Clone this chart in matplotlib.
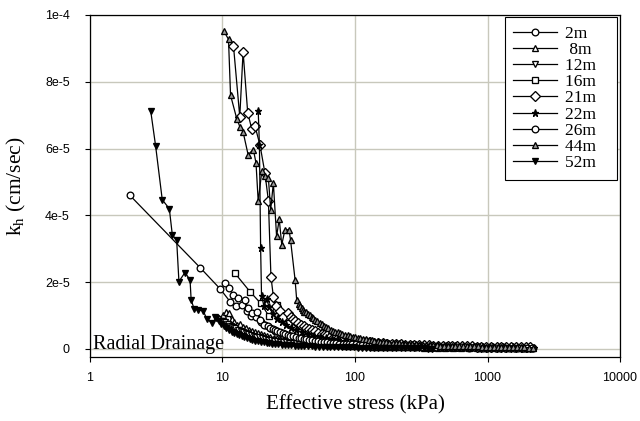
import matplotlib
matplotlib.use('Agg')
import matplotlib.pyplot as plt
import numpy as np

# effective stress (kPa) and kh (in units of 1e-5 cm/sec) for each depth
x_2m = [2.0, 6.8, 9.6, 11.4, 12.6, 14.0, 15.2, 16.5, 18, 19.5, 21, 23, 25, 27.5, 30, 33, 36.5, 40, 44, 49,
        54, 60, 67, 75, 84, 95, 108, 123, 140, 160, 184, 212, 245, 285, 330, 385, 450, 525, 615, 720,
        845, 990, 1160, 1360, 1600, 1880, 2200]
y_2m = [4.6, 2.43, 1.8, 1.42, 1.3, 1.32, 1.15, 1.0, 0.95, 0.82, 0.72, 0.62, 0.55, 0.48, 0.43, 0.38, 0.34, 0.3, 0.27, 0.24,
        0.21, 0.19, 0.17, 0.15, 0.14, 0.12, 0.11, 0.1, 0.095, 0.09, 0.085, 0.08, 0.075, 0.07, 0.065, 0.06, 0.055, 0.05, 0.045, 0.04,
        0.04, 0.035, 0.03, 0.03, 0.025, 0.02, 0.02]

x_8m = [10.1, 10.7, 11.1, 11.7, 12.3, 12.8, 13.5, 14.2, 15.0, 15.8, 16.7, 17.6, 18.6, 19.6, 20.7, 21.8, 23.0, 24.3, 25.6, 27.0,
        28.5, 30.0, 31.7, 33.4, 35.2, 37.2, 39.2, 41.4, 43.6, 46.0, 48.6, 51.2, 54, 57, 60, 63.4, 66.9, 70.5, 74.4, 78.5,
        82.8, 87.4, 92.2, 97.2, 103, 108, 114, 120, 127, 134, 141, 149, 157, 166, 175, 185, 195, 205, 217, 229,
        241, 255, 269, 283, 299, 330, 370, 420, 480, 550, 630, 720, 830, 950, 1090, 1250, 1430, 1640, 1880, 2150]
y_8m = [1.02, 1.1, 1.07, 0.89, 0.82, 0.72, 0.74, 0.66, 0.63, 0.57, 0.55, 0.5, 0.47, 0.44, 0.41, 0.39, 0.36, 0.34, 0.32, 0.3,
        0.28, 0.265, 0.25, 0.235, 0.22, 0.21, 0.2, 0.19, 0.18, 0.17, 0.16, 0.155, 0.148, 0.14, 0.134, 0.128, 0.122, 0.117, 0.112, 0.107,
        0.103, 0.099, 0.095, 0.091, 0.088, 0.085, 0.082, 0.079, 0.076, 0.073, 0.071, 0.069, 0.067, 0.065, 0.063, 0.061, 0.059, 0.057, 0.055, 0.053,
        0.051, 0.05, 0.048, 0.047, 0.045, 0.043, 0.041, 0.039, 0.037, 0.035, 0.033, 0.031, 0.029, 0.027, 0.025, 0.023, 0.021, 0.02, 0.018, 0.016]

x_12m = [8.8, 9.2, 9.6, 10.0, 10.5, 11.0, 11.5, 12.0, 12.5, 13.1, 13.7, 14.3, 15, 15.7, 16.5, 17.2, 18, 19, 20, 21,
         22, 23.2, 24.5, 25.7, 27, 28.5, 30, 32, 34, 36, 38, 40.5, 43, 46, 49, 52.5, 56, 60, 64, 68.5,
         73, 78.5, 84, 90, 97, 104, 112, 121, 130, 140, 152, 164, 178, 193, 210, 230, 250, 275, 300, 330,
         360, 395, 430, 475, 520, 575, 630, 690, 760, 840, 920, 1010, 1100, 1220, 1350, 1500, 1650, 1820, 2000]
y_12m = [0.95, 0.9, 0.85, 0.83, 0.8, 0.74, 0.7, 0.66, 0.62, 0.58, 0.55, 0.51, 0.48, 0.45, 0.42, 0.4, 0.37, 0.35, 0.32, 0.3,
         0.28, 0.265, 0.25, 0.235, 0.22, 0.21, 0.2, 0.19, 0.18, 0.17, 0.16, 0.15, 0.14, 0.135, 0.13, 0.125, 0.12, 0.115, 0.11, 0.105,
         0.1, 0.095, 0.09, 0.088, 0.085, 0.082, 0.08, 0.077, 0.075, 0.072, 0.07, 0.067, 0.065, 0.062, 0.06, 0.057, 0.055, 0.052, 0.05, 0.047,
         0.045, 0.042, 0.04, 0.038, 0.035, 0.033, 0.03, 0.03, 0.03, 0.027, 0.025, 0.022, 0.02, 0.02, 0.02, 0.017, 0.015, 0.012, 0.01]

x_16m = [12.4, 16.1, 19.4, 22.4, 25.6, 27.5, 29.5, 32, 35, 38, 42, 46, 51, 57, 63, 70, 78, 88, 100, 115,
         132, 152, 176, 205, 240, 280, 330, 390, 460, 540, 640, 760, 900, 1070, 1270, 1500, 1780, 2100]
y_16m = [2.27, 1.72, 1.37, 0.99, 1.32, 1.0, 0.88, 0.78, 0.7, 0.62, 0.55, 0.48, 0.43, 0.38, 0.34, 0.3, 0.27, 0.24, 0.21, 0.19,
         0.17, 0.15, 0.135, 0.12, 0.11, 0.1, 0.09, 0.085, 0.08, 0.075, 0.07, 0.065, 0.06, 0.055, 0.05, 0.048, 0.045, 0.04]

x_21m = [12.1, 13.5, 14.3, 15.5, 16.6, 17.6, 19.2, 20.9, 22.2, 23.2, 24.2, 25.5, 27, 28.7, 31.3, 32.6, 34, 35.5, 37, 39,
         41, 43, 45, 47.5, 50, 53, 56, 59, 62, 66, 70, 74, 78, 83, 88, 94, 100, 107, 115, 122,
         130, 140, 150, 162, 175, 190, 205, 222, 240, 260, 280, 305, 330, 360, 390, 425, 460, 500, 540, 590,
         640, 700, 760, 830, 900, 980, 1070, 1170, 1270, 1390, 1500, 1640, 1780, 1940, 2100]
y_21m = [9.08, 6.95, 8.9, 7.07, 6.6, 6.67, 6.1, 5.27, 4.44, 2.17, 1.57, 1.3, 1.15, 0.97, 1.07, 0.97, 0.9, 0.84, 0.78, 0.73,
         0.68, 0.64, 0.6, 0.56, 0.53, 0.49, 0.46, 0.435, 0.41, 0.385, 0.36, 0.34, 0.32, 0.3, 0.28, 0.265, 0.25, 0.235, 0.22, 0.21,
         0.2, 0.19, 0.18, 0.17, 0.16, 0.15, 0.14, 0.135, 0.13, 0.125, 0.12, 0.115, 0.11, 0.105, 0.1, 0.095, 0.09, 0.087, 0.085, 0.082,
         0.08, 0.077, 0.075, 0.072, 0.07, 0.067, 0.065, 0.062, 0.06, 0.057, 0.055, 0.052, 0.05, 0.047, 0.045]

x_22m = [18.6, 19.0, 19.4, 19.7, 20.5, 21.5, 22.5, 24, 26, 28, 30, 33, 36, 40, 44, 49, 54, 60, 67, 75,
         84, 94, 106, 120, 136, 155, 177, 203, 233, 268, 310, 360, 420, 490, 570, 670, 790, 930, 1100, 1300,
         1550, 1850, 2250]
y_22m = [7.14, 6.1, 3.02, 1.6, 1.3, 1.5, 1.25, 1.05, 0.9, 0.8, 0.72, 0.63, 0.56, 0.5, 0.45, 0.4, 0.36, 0.32, 0.29, 0.26,
         0.23, 0.21, 0.19, 0.17, 0.155, 0.14, 0.13, 0.12, 0.11, 0.1, 0.095, 0.09, 0.085, 0.08, 0.075, 0.07, 0.065, 0.06, 0.055, 0.05,
         0.045, 0.04, 0.035]

x_26m = [10.4, 11.1, 12.1, 13.2, 14.8, 15.6, 16.6, 18.1, 19.2, 20.4, 22, 23, 24, 25, 26, 27.2, 28.5, 29.7, 31, 32.5,
         34, 35.7, 37.5, 39.2, 41, 43, 45, 47.5, 50, 52.5, 55, 58, 61, 64.5, 68, 72, 76, 80.5, 85, 90,
         95, 101, 107, 113, 120, 127, 135, 144, 153, 164, 175, 187, 200, 214, 230, 247, 265, 285, 305, 327,
         350, 377, 405, 436, 470, 506, 545, 586, 630, 678, 730, 790, 850, 917, 990, 1070, 1150, 1245, 1350, 1460,
         1580, 1710, 1850, 2000, 2150]
y_26m = [1.97, 1.82, 1.62, 1.52, 1.47, 1.22, 1.07, 1.12, 0.87, 0.72, 0.68, 0.64, 0.6, 0.565, 0.53, 0.5, 0.47, 0.445, 0.42, 0.4,
         0.38, 0.36, 0.34, 0.32, 0.3, 0.285, 0.27, 0.255, 0.24, 0.23, 0.22, 0.21, 0.2, 0.19, 0.18, 0.17, 0.16, 0.155, 0.15, 0.145,
         0.14, 0.135, 0.13, 0.125, 0.12, 0.115, 0.11, 0.105, 0.1, 0.097, 0.095, 0.092, 0.09, 0.087, 0.085, 0.082, 0.08, 0.077, 0.075, 0.072,
         0.07, 0.067, 0.065, 0.062, 0.06, 0.057, 0.055, 0.052, 0.05, 0.05, 0.05, 0.047, 0.045, 0.042, 0.04, 0.04, 0.04, 0.037, 0.035, 0.032,
         0.03, 0.03, 0.03, 0.027, 0.025]

x_44m = [10.2, 11.1, 11.5, 12.8, 13.5, 14.3, 15.6, 17.1, 17.9, 18.6, 19.8, 20.9, 22.2, 23.1, 24.2, 25.6, 26.8, 28, 29.6, 31.8,
         32.6, 35.3, 36.3, 37.5, 38.5, 39.5, 40.5, 41.5, 43, 44, 45.5, 47, 48.5, 50, 52, 54, 56, 58, 60.5, 63,
         65.5, 68, 71, 74, 77, 80, 84, 88, 92, 96, 100, 105, 110, 115, 121, 127, 134, 140, 148, 155,
         164, 172, 182, 192, 203, 215, 228, 240, 255, 270, 287, 305, 325, 345, 367, 390, 415, 440, 470, 500,
         535, 570, 610, 650, 695, 740, 790, 850, 910, 970, 1040, 1110, 1190, 1270, 1360, 1450, 1550, 1660, 1780, 1900,
         2040, 2200]
y_44m = [9.53, 9.27, 7.6, 6.9, 6.66, 6.5, 5.82, 5.97, 5.57, 4.42, 5.32, 5.17, 5.12, 4.17, 4.97, 3.37, 3.89, 3.12, 3.57, 3.57,
         3.27, 2.07, 1.47, 1.35, 1.3, 1.22, 1.18, 1.12, 1.1, 1.05, 1.02, 0.97, 0.93, 0.88, 0.84, 0.78, 0.74, 0.7, 0.66, 0.62,
         0.58, 0.55, 0.52, 0.5, 0.47, 0.45, 0.43, 0.41, 0.39, 0.37, 0.35, 0.33, 0.315, 0.3, 0.285, 0.27, 0.255, 0.24, 0.23, 0.22,
         0.21, 0.2, 0.19, 0.18, 0.172, 0.165, 0.157, 0.15, 0.145, 0.14, 0.135, 0.13, 0.125, 0.12, 0.115, 0.11, 0.105, 0.1, 0.097, 0.095,
         0.092, 0.09, 0.087, 0.085, 0.082, 0.08, 0.077, 0.075, 0.072, 0.07, 0.067, 0.065, 0.062, 0.06, 0.057, 0.055, 0.052, 0.05, 0.047, 0.045,
         0.042, 0.04]

x_52m = [2.87, 3.13, 3.51, 3.97, 4.18, 4.51, 4.69, 5.21, 5.69, 5.8, 6.12, 6.56, 7.17, 7.6, 8.3, 9.0, 9.4, 9.8, 10.2, 10.7,
         11.2, 11.7, 12.2, 12.8, 13.4, 14.0, 14.6, 15.3, 16.0, 16.8, 17.6, 18.5, 19.4, 20.5, 21.5, 22.5, 23.7, 25, 26.4, 28,
         29.5, 31, 33, 35, 37, 39, 41.5, 44, 47, 50, 53.5, 57, 61, 65, 69.5, 74, 79.5, 85, 91, 98,
         105, 113, 121, 130, 140, 150, 162, 175, 190, 205, 222, 240, 260, 280, 305, 330, 355, 380]
y_52m = [7.14, 6.07, 4.47, 4.2, 3.42, 3.25, 2.02, 2.29, 2.07, 1.47, 1.19, 1.17, 1.14, 0.9, 0.79, 0.92, 0.84, 0.75, 0.7, 0.62,
         0.58, 0.52, 0.49, 0.45, 0.41, 0.38, 0.35, 0.32, 0.3, 0.27, 0.25, 0.23, 0.215, 0.2, 0.185, 0.17, 0.16, 0.15, 0.14, 0.13,
         0.12, 0.11, 0.105, 0.1, 0.095, 0.09, 0.085, 0.08, 0.075, 0.07, 0.068, 0.065, 0.062, 0.06, 0.057, 0.055, 0.052, 0.05, 0.047, 0.045,
         0.042, 0.04, 0.038, 0.035, 0.033, 0.03, 0.03, 0.03, 0.027, 0.025, 0.023, 0.02, 0.02, 0.02, 0.017, 0.015, 0.012, 0.01]

depths = ['2m', ' 8m', '12m', '16m', '21m', '22m', '26m', '44m', '52m']
all_x = [x_2m, x_8m, x_12m, x_16m, x_21m, x_22m, x_26m, x_44m, x_52m]
all_y = [y_2m, y_8m, y_12m, y_16m, y_21m, y_22m, y_26m, y_44m, y_52m]
markers = ['o', '^', 'v', 's', 'D', '*', 'o', '^', 'v']
faces = ['white', 'white', 'white', 'white', 'white', 'black', 'white', '#9a9a9a', 'black']
sizes = [4.8, 4.8, 4.8, 4.3, 4.8, 5.2, 4.8, 4.8, 4.8]

fig = plt.figure(figsize=(6.4, 4.21), dpi=100)
ax = fig.add_axes([0.1406, 0.152, 0.8282, 0.8124])

for xs, ys, lab, mk, fc, ms in zip(all_x, all_y, depths, markers, faces, sizes):
    ax.plot(xs, np.array(ys) * 1e-5, color='black', linewidth=0.9, marker=mk, markersize=ms,
            markerfacecolor=fc, markeredgecolor='black', markeredgewidth=0.95, label=lab + '   ')

ax.set_xscale('log')
ax.set_xlim(1, 10000)
ax.set_ylim(-0.24e-5, 1e-4)
ax.set_xticks([1, 10, 100, 1000, 10000])
ax.set_xticklabels(['1', '10', '100', '1000', '10000'])
ax.xaxis.set_minor_locator(matplotlib.ticker.NullLocator())
ax.set_yticks([0, 2e-5, 4e-5, 6e-5, 8e-5, 1e-4])
ax.set_yticklabels(['0', '2e-5', '4e-5', '6e-5', '8e-5', '1e-4'])
ax.tick_params(direction='out', length=3.5, width=0.8, labelsize=9)
ax.tick_params(axis='x', pad=7)
ax.tick_params(axis='y', pad=11)
for lbl in ax.get_xticklabels() + ax.get_yticklabels():
    lbl.set_family('Liberation Sans')

ax.grid(True, color='#c8c8bc', linewidth=1)
ax.set_axisbelow(True)
for sp in ax.spines.values():
    sp.set_linewidth(0.9)

ax.set_xlabel('Effective stress (kPa)', family='Liberation Serif', fontsize=15, labelpad=8)
ax.set_ylabel(r'k$_\mathregular{h}$ (cm/sec)', family='Liberation Serif', fontsize=15.5, labelpad=12)

ax.text(0.006, 0.023, 'Radial Drainage', transform=ax.transAxes, family='Liberation Serif',
        fontsize=14.5, va='baseline', ha='left')

leg = ax.legend(loc='upper right', bbox_to_anchor=(0.995, 0.994), borderaxespad=0, fancybox=False,
                framealpha=1, edgecolor='black', prop={'family': 'Liberation Serif', 'size': 12.5},
                handlelength=2.5, labelspacing=0.0, borderpad=0.5, handletextpad=0.45)
leg.get_frame().set_linewidth(0.8)

fig.savefig('out.png', dpi=100)
